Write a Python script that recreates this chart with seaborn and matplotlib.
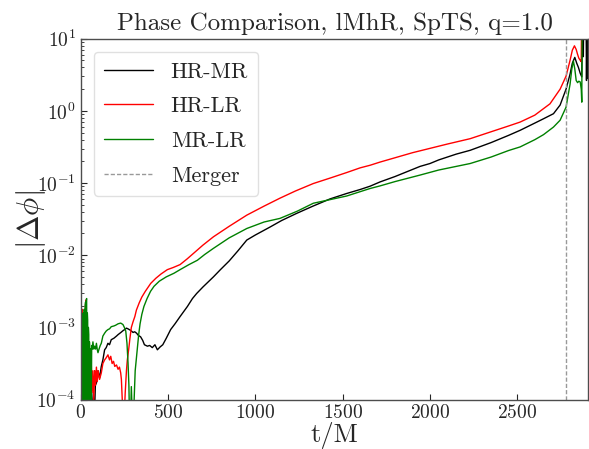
import matplotlib
matplotlib.use("Agg")
import matplotlib.pyplot as plt
import seaborn as sns
import pandas as pd
import numpy as np
from matplotlib.ticker import LogLocator, NullFormatter

# ---------------- data ----------------
# values are log10(|dphi|)
t_hr_mr = [30, 36, 42, 48, 54, 60, 66, 72, 78, 84, 90, 99, 108, 118, 127, 137, 146, 156, 165, 175,
           190, 205, 214, 230, 245, 252, 262, 271, 285, 300, 309, 320, 330, 343, 355, 365, 382, 395,
           410, 425, 439, 455, 470, 490, 515, 540, 569, 590, 611, 640, 664, 700, 730, 760, 800, 850,
           900, 951, 1000, 1084, 1150, 1237, 1330, 1428, 1523, 1600, 1657, 1714, 1800, 1943, 2000,
           2050, 2150, 2230, 2350, 2450, 2516, 2600, 2650, 2707, 2745, 2779, 2802, 2815, 2829, 2840,
           2850, 2860, 2869, 2873, 2878, 2881, 2893, 2896, 2900, 2903, 2907]
lg_hr_mr = [-4.5, -3.9, -4.6, -3.95, -4.5, -3.85, -4.4, -3.9, -4.3, -3.8, -3.77, -3.6, -3.7, -3.54,
            -3.45, -3.31, -3.28, -3.22, -3.24, -3.17, -3.15, -3.12, -3.10, -3.07, -3.04, -3.03, -3.01,
            -3.02, -3.04, -3.07, -3.06, -3.08, -3.11, -3.13, -3.18, -3.24, -3.26, -3.25, -3.28, -3.24,
            -3.31, -3.27, -3.24, -3.15, -3.03, -2.95, -2.85, -2.78, -2.71, -2.60, -2.53, -2.44, -2.37,
            -2.30, -2.20, -2.08, -1.94, -1.79, -1.72, -1.61, -1.52, -1.42, -1.32, -1.22, -1.145, -1.09,
            -1.044, -0.985, -0.91, -0.77, -0.73, -0.68, -0.60, -0.547, -0.44, -0.34, -0.27, -0.17,
            -0.11, -0.04, 0.08, 0.30, 0.51, 0.66, 0.74, 0.66, 0.60, 0.52, 0.47, 1.5, 0.75, 1.5, 1.5,
            0.42, 1.5, 0.45, 1.5]

t_hr_lr = [0, 3, 6, 9, 12, 15, 18, 21, 24, 27, 30, 33, 36, 40, 44, 48, 52, 56, 60, 65, 70, 75, 80, 85,
           90, 95, 100, 108, 118, 127, 137, 146, 156, 165, 172, 180, 188, 195, 205, 214, 222, 229, 233,
           238, 242, 248, 255, 262, 267, 275, 282, 290, 300, 310, 319, 335, 350, 370, 401, 430, 460,
           496, 530, 569, 610, 648, 700, 760, 850, 951, 1050, 1141, 1230, 1332, 1430, 1523, 1600,
           1657, 1714, 1800, 1900, 2000, 2100, 2230, 2350, 2450, 2516, 2600, 2687, 2745, 2779, 2802,
           2815, 2827, 2837, 2844, 2852, 2860, 2866, 2869, 2907]
lg_hr_lr = [-3.0, -2.85, -4.5, -2.75, -2.94, -4.6, -2.8, -2.9, -4.4, -2.7, -2.62, -2.9, -4.5, -3.3,
            -3.7, -4.4, -3.5, -3.8, -3.45, -3.9, -3.6, -4.0, -3.6, -3.8, -3.55, -3.75, -3.6, -3.72,
            -3.63, -3.5, -3.45, -3.42, -3.38, -3.45, -3.40, -3.5, -3.47, -3.54, -3.52, -3.58, -3.55,
            -3.63, -3.72, -4.0, -4.6, -4.3, -3.9, -3.6, -3.45, -3.3, -3.15, -3.0, -2.92, -2.85, -2.76,
            -2.66, -2.58, -2.50, -2.39, -2.32, -2.26, -2.2, -2.17, -2.13, -2.05, -1.97, -1.86, -1.745,
            -1.6, -1.445, -1.32, -1.21, -1.11, -1.007, -0.93, -0.855, -0.79, -0.754, -0.71, -0.65,
            -0.58, -0.52, -0.46, -0.386, -0.29, -0.21, -0.156, -0.06, 0.097, 0.30, 0.48, 0.70, 0.84,
            0.90, 0.85, 0.79, 0.73, 0.70, 0.68, 1.6, 2.0]

t_mr_lr = [10, 12, 14, 16, 18, 20, 22, 24, 26, 28, 30, 32, 34, 36, 38, 40, 42, 44, 46,
           48, 50, 52, 54, 56, 58, 60, 63, 66, 70, 75, 80, 85, 90, 95, 99, 105, 112, 118, 127, 137,
           146, 156, 165, 175, 190, 200, 214, 229, 242, 250, 258, 265, 271, 276, 282, 290, 295, 300,
           306, 312, 318, 324, 332, 340, 350, 362, 380, 400, 420, 450, 490, 534, 569, 620, 668, 710,
           760, 850, 951, 1050, 1141, 1240, 1332, 1428, 1523, 1600, 1657, 1714, 1800, 1943, 2050,
           2150, 2230, 2350, 2450, 2516, 2600, 2650, 2707, 2745, 2779, 2802, 2812, 2821, 2829, 2837,
           2845, 2852, 2860, 2866, 2869, 2872, 2907]
lg_mr_lr = [-3.0, -4.5, -2.8, -3.5, -4.6, -2.75, -2.8, -4.5, -2.7,
            -2.65, -4.4, -2.62, -2.6, -4.5, -2.8, -2.9, -4.6, -3.0, -3.1, -4.4, -3.2, -3.3, -4.5,
            -3.3, -3.3, -4.3, -3.25, -3.3, -3.2, -3.3, -3.26, -3.3, -3.22, -3.31, -3.35, -3.3, -3.25,
            -3.22, -3.12, -3.08, -3.05, -3.03, -3.02, -2.99, -2.98, -2.97, -2.95, -2.94, -2.96, -3.0,
            -3.05, -3.22, -3.49, -3.8, -4.6, -3.82, -4.2, -4.6, -4.0, -3.6, -3.45, -3.3, -3.1, -2.95,
            -2.82, -2.71, -2.6, -2.5, -2.43, -2.36, -2.30, -2.25, -2.2, -2.13, -2.07, -1.99, -1.905,
            -1.76, -1.63, -1.54, -1.49, -1.39, -1.28, -1.23, -1.18, -1.12, -1.076, -1.04, -0.98,
            -0.89, -0.82, -0.77, -0.73, -0.64, -0.55, -0.50, -0.40, -0.33, -0.225, -0.13, 0.05, 0.37,
            0.58, 0.69, 0.58, 0.42, 0.39, 0.41, 0.40, 0.30, 0.12, 1.6, 2.0]

merger_t = 2779
x_max = 2907
series_labels = ["HR-MR", "HR-LR", "MR-LR"]
series_colors = ["black", "red", "green"]
title = "Phase Comparison, lMhR, SpTS, q=1.0"

# ---------------- style ----------------
sns.set_style("ticks")
plt.rcParams["font.family"] = ["cmr10", "DejaVu Serif"]
plt.rcParams["mathtext.fontset"] = "cm"
plt.rcParams["axes.formatter.use_mathtext"] = True
plt.rcParams["axes.unicode_minus"] = False
plt.rcParams["xtick.direction"] = "in"
plt.rcParams["ytick.direction"] = "in"

fig = plt.figure(figsize=(5.89, 4.49), dpi=100)
ax = fig.add_axes([0.137, 0.110, 0.862, 0.804])

frames = []
for t, lg, lab in zip([t_hr_mr, t_hr_lr, t_mr_lr], [lg_hr_mr, lg_hr_lr, lg_mr_lr], series_labels):
    frames.append(pd.DataFrame({"t": t, "dphi": np.power(10.0, lg), "series": lab}))
df = pd.concat(frames, ignore_index=True)

for lab, col in zip(series_labels, series_colors):
    sub = df[df["series"] == lab]
    sns.lineplot(data=sub, x="t", y="dphi", ax=ax, color=col, lw=1.0, label=lab,
                 estimator=None, sort=False)

ax.axvline(merger_t, color="0.6", ls="--", lw=1.0, dashes=(3, 1.5), label="Merger")

ax.set_yscale("log")
ax.set_ylim(1e-4, 1e1)
ax.set_xlim(0, x_max)
ax.yaxis.set_major_locator(LogLocator(base=10, numticks=10))
ax.yaxis.set_minor_locator(LogLocator(base=10, subs=np.arange(2, 10), numticks=20))
ax.yaxis.set_minor_formatter(NullFormatter())
ax.set_xticks([0, 500, 1000, 1500, 2000, 2500])
ax.tick_params(axis="both", which="major", labelsize=14, length=4, width=0.8, colors="0.15")
ax.tick_params(axis="y", which="minor", length=2, width=0.6, colors="0.15")
for sp in ax.spines.values():
    sp.set_color("0.3")
    sp.set_linewidth(1.0)

ax.set_title(title, fontsize=18, pad=6)
ax.set_xlabel("t/M", fontsize=19, va="top")
ax.xaxis.set_label_coords(0.5, -0.062)
ax.set_ylabel(r"$|\Delta\phi|$", fontsize=22)
ax.yaxis.set_label_coords(-0.064, 0.5)

leg = ax.legend(loc="upper left", fontsize=16, frameon=True, handlelength=2.2,
                labelspacing=0.68, borderpad=0.45, borderaxespad=0.6)
leg.get_frame().set_edgecolor("0.85")

fig.savefig("out.png", dpi=100)
